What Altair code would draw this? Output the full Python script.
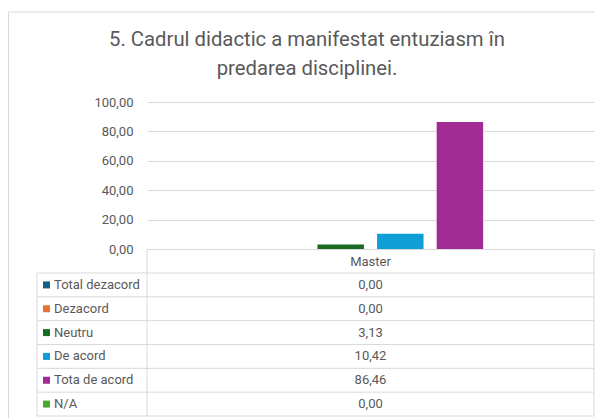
import altair as alt
import pandas as pd

# ---- data ----
title_lines = ["5. Cadrul didactic a manifestat entuziasm în", "predarea disciplinei."]
group = ["Master"]
series = ["Total dezacord", "Dezacord", "Neutru", "De acord", "Tota de acord", "N/A"]
values = [0.00, 0.00, 3.13, 10.42, 86.46, 0.00]
colors = ["#156082", "#E97132", "#196B24", "#0F9ED5", "#A02B93", "#4EA72E"]
y_ticks = [0, 20, 40, 60, 80, 100]

df = pd.DataFrame({"group": group * len(series), "series": series, "value": values})
df["label"] = [f"{v:.2f}".replace(".", ",") for v in values]
one = pd.DataFrame({"k": [0]})

# ---- layout ----
FONT = "Roboto"
TXT = "#595959"
GRID = "#d9d9d9"
W, H = 447, 314
BASE = 147      # bar baseline inside view
ROW_TOP = 171   # first table row top
LEFT_COL = -110 # table left edge

x_band = alt.X("group:N", scale=alt.Scale(paddingInner=0, paddingOuter=0), axis=None)
row_scale = alt.Scale(domain=series, range=[ROW_TOP, H], paddingInner=0, paddingOuter=0)
color = alt.Color("series:N", scale=alt.Scale(domain=series, range=colors), legend=None)

frame = alt.Chart(one).mark_rect(fill=None, stroke=GRID, strokeWidth=1).encode(
    x=alt.value(-138.5), x2=alt.value(W + 60), y=alt.value(-90), y2=alt.value(H + 60)
)

title = alt.Chart(one).mark_text(
    font=FONT, fontSize=20.3, color=TXT, align="center", baseline="alphabetic", lineHeight=28.5
).encode(x=alt.value(160), y=alt.value(-56), text=alt.value(title_lines))

bars = alt.Chart(df).mark_bar().encode(
    x=x_band,
    xOffset=alt.XOffset("series:N", sort=series,
                        scale=alt.Scale(domain=series, paddingInner=0.22, paddingOuter=0.86)),
    y=alt.Y("value:Q", scale=alt.Scale(domain=[0, 100], range=[BASE, 0]),
            axis=alt.Axis(values=y_ticks, title=None, domain=False, ticks=False,
                          labelPadding=14, labelFontSize=13, labelColor=TXT, labelFont=FONT,
                          gridColor=GRID, gridWidth=1,
                          labelExpr="replace(format(datum.value, '.2f'), '.', ',')")),
    color=color,
)

header = alt.Chart(df.iloc[:1]).mark_text(font=FONT, fontSize=13, color=TXT, baseline="middle").encode(
    x=x_band, y=alt.value((BASE + ROW_TOP) / 2 + 0.5), text="group:N"
)

vals = alt.Chart(df).mark_text(font=FONT, fontSize=13, color=TXT, baseline="middle").encode(
    x=x_band, y=alt.Y("series:N", sort=series, scale=row_scale, axis=None), text="label:N"
)

squares = alt.Chart(df).mark_square(size=49, opacity=1).encode(
    x=alt.value(LEFT_COL + 9.5), y=alt.Y("series:N", sort=series, scale=row_scale, axis=None), color=color
)

labels = alt.Chart(df).mark_text(font=FONT, fontSize=13, color=TXT, align="left", baseline="middle").encode(
    x=alt.value(LEFT_COL + 17), y=alt.Y("series:N", sort=series, scale=row_scale, axis=None), text="series:N"
)

row_lines = alt.Chart(df).mark_rule(color=GRID, strokeWidth=1).encode(
    x=alt.value(LEFT_COL), x2=alt.value(W),
    y=alt.Y("series:N", sort=series, scale=row_scale, axis=None, bandPosition=0),
)
last_line = alt.Chart(df.iloc[-1:]).mark_rule(color=GRID, strokeWidth=1).encode(
    x=alt.value(LEFT_COL), x2=alt.value(W),
    y=alt.Y("series:N", sort=series, scale=row_scale, axis=None, bandPosition=1),
)
v_left = alt.Chart(one).mark_rule(color=GRID, strokeWidth=1).encode(
    x=alt.value(LEFT_COL), y=alt.value(ROW_TOP), y2=alt.value(H))
v_mid = alt.Chart(one).mark_rule(color=GRID, strokeWidth=1).encode(
    x=alt.value(0), y=alt.value(BASE), y2=alt.value(H))
v_right = alt.Chart(one).mark_rule(color=GRID, strokeWidth=1).encode(
    x=alt.value(W), y=alt.value(BASE), y2=alt.value(H))

chart = alt.layer(
    frame, title, bars, row_lines, last_line, v_left, v_mid, v_right, header, vals, squares, labels
).resolve_scale(y="independent").properties(
    width=W, height=H,
    padding={"left": 139, "top": 94, "right": 1, "bottom": 2},
    autosize=alt.AutoSizeParams(type="none"),
).configure_view(stroke=None)

chart.save("out.html", embed_options={"renderer": "svg", "actions": False})
